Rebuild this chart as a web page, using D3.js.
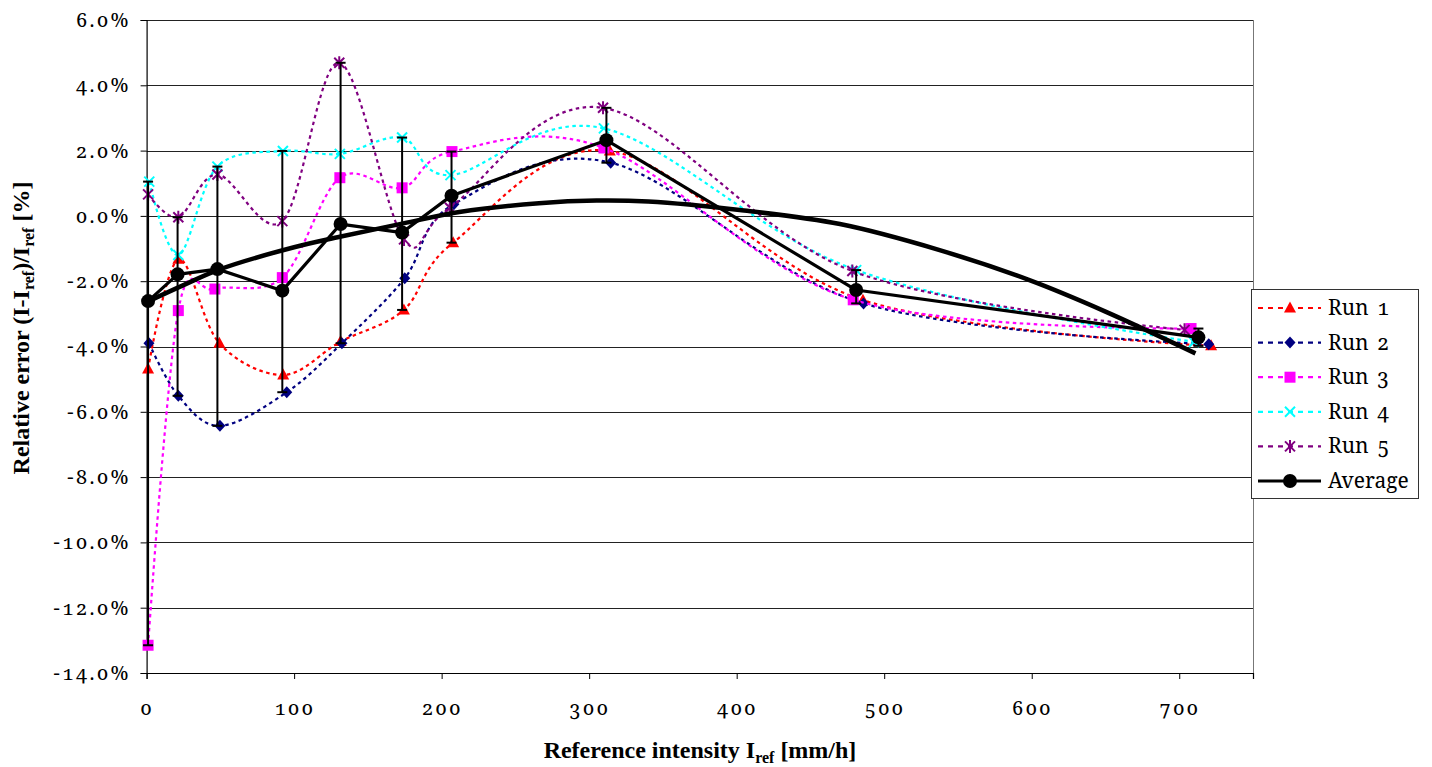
<!DOCTYPE html>
<html>
<head>
<meta charset="utf-8">
<script src="https://cdn.jsdelivr.net/npm/d3@7"></script>
<style>
  html, body { margin: 0; padding: 0; background: #fff; }
  svg { display: block; }
</style>
</head>
<body>
<svg id="chart" width="1432" height="767"></svg>
<script>
// ---------------- data ----------------
const xTicks = [0, 100, 200, 300, 400, 500, 600, 700];
const yTicks = [6, 4, 2, 0, -2, -4, -6, -8, -10, -12, -14];

const seriesNames = ["Run 1", "Run 2", "Run 3", "Run 4", "Run 5"];
const seriesColors = ["#FF0000", "#000080", "#FF00FF", "#00FFFF", "#800080"];

const run1X = [1, 21.5, 49.3, 92.6, 131.5, 174.4, 207.8, 314, 485.6, 721.6];
const run1Y = [-4.69, -1.33, -3.90, -4.87, -3.85, -2.88, -0.82, 1.99, -2.58, -3.98];

const run2X = [1.6, 21.5, 49.7, 95, 132.4, 175, 208.3, 314.6, 486, 720];
const run2Y = [-3.90, -5.51, -6.43, -5.40, -3.90, -1.91, 0.36, 1.63, -2.68, -3.93];

const run3X = [1, 21.5, 46.3, 92, 131, 173.2, 207, 310, 479, 708];
const run3Y = [-13.15, -2.90, -2.24, -1.89, 1.17, 0.86, 1.97, 2.08, -2.57, -3.45];

const run4X = [1.8, 21.5, 48, 92.4, 131, 173.2, 206, 310, 481, 710];
const run4Y = [1.05, -1.20, 1.51, 1.99, 1.90, 2.40, 1.25, 2.68, -1.66, -3.86];

const run5X = [1, 21.5, 48, 92, 130.6, 174.5, 205.6, 309.4, 478.4, 703.6];
const run5Y = [0.66, -0.04, 1.27, -0.16, 4.69, -0.72, 0.25, 3.31, -1.69, -3.49];

const avgX = [1, 21, 48, 92, 131.5, 173.2, 206.7, 311.7, 481, 713];
const avgY = [-2.61, -1.79, -1.63, -2.29, -0.25, -0.51, 0.62, 2.32, -2.27, -3.72];

// trend line of the average
const trendX = [0, 25, 50, 100, 131, 174, 212, 266, 305, 340, 402, 470, 537, 598, 650, 711];
const trendY = [-2.64, -2.12, -1.63, -0.96, -0.64, -0.23, 0.12, 0.39, 0.47, 0.44, 0.18, -0.25, -1.04, -1.96, -2.93, -4.21];

// ---------------- chart ----------------
const NUMFONT = "'Noto Serif'";
const TITLEFONT = "'Liberation Serif'";
const svg = d3.select("#chart");
const L = 146.6, R = 1253, T = 20, B = 673;
const x = d3.scaleLinear().domain([0, 750]).range([L, R]);
const y = d3.scaleLinear().domain([-14, 6]).range([B, T]);

const runsX = [run1X, run2X, run3X, run4X, run5X];
const runsY = [run1Y, run2Y, run3Y, run4Y, run5Y];

// gridlines
svg.append("g").selectAll("line").data(yTicks).join("line")
  .attr("x1", L).attr("x2", R)
  .attr("y1", d => Math.round(y(d)) + 0.5).attr("y2", d => Math.round(y(d)) + 0.5)
  .attr("stroke", "#222").attr("stroke-width", 1);
// right border
svg.append("line").attr("x1", R + 0.5).attr("x2", R + 0.5).attr("y1", T).attr("y2", B)
  .attr("stroke", "#777").attr("stroke-width", 1);

// axes
const yAxis = d3.axisLeft(y).tickValues(yTicks).tickSize(6).tickPadding(10)
  .tickFormat(d => (d3.format(".1f")(d) + "%").replace("\u2212", "-"));
const gy = svg.append("g").attr("transform", `translate(${L},0)`).call(yAxis);
gy.select(".domain").attr("stroke", "#000").attr("stroke-width", 1.2);
gy.selectAll(".tick line").attr("stroke", "#000");
gy.selectAll(".tick text").attr("font-size", 20).attr("fill", "#000")
  .style("font-family", NUMFONT).style("font-variant-numeric", "oldstyle-nums")
  .style("letter-spacing", "2.2px");

const xAxis = d3.axisBottom(x).tickValues(xTicks).tickSize(6).tickPadding(22)
  .tickFormat(d3.format("d"));
const gx = svg.append("g").attr("transform", `translate(0,${B})`).call(xAxis);
gx.select(".domain").attr("stroke", "#000").attr("stroke-width", 1.2);
gx.selectAll(".tick line").attr("stroke", "#000");
gx.selectAll(".tick text").attr("font-size", 20).attr("fill", "#000")
  .style("font-family", NUMFONT).style("font-variant-numeric", "oldstyle-nums")
  .style("letter-spacing", "2px");

// marker drawing
function marker(g, i, cx, cy) {
  const c = seriesColors[i];
  if (i === 0) {
    g.append("path").attr("d", `M${cx},${cy - 6.5}L${cx + 6},${cy + 4.5}L${cx - 6},${cy + 4.5}Z`).attr("fill", c);
  } else if (i === 1) {
    g.append("path").attr("d", `M${cx},${cy - 6}L${cx + 5.5},${cy}L${cx},${cy + 6}L${cx - 5.5},${cy}Z`).attr("fill", c);
  } else if (i === 2) {
    g.append("rect").attr("x", cx - 5.5).attr("y", cy - 5.5).attr("width", 11).attr("height", 11).attr("fill", c);
  } else if (i === 3) {
    g.append("path").attr("d", `M${cx - 5},${cy - 5}L${cx + 5},${cy + 5}M${cx - 5},${cy + 5}L${cx + 5},${cy - 5}`)
      .attr("stroke", c).attr("stroke-width", 2).attr("fill", "none");
  } else {
    g.append("path").attr("d", `M${cx - 5},${cy - 5}L${cx + 5},${cy + 5}M${cx - 5},${cy + 5}L${cx + 5},${cy - 5}M${cx},${cy - 6.5}L${cx},${cy + 6.5}`)
      .attr("stroke", c).attr("stroke-width", 2).attr("fill", "none");
  }
}

// run series
const smooth = d3.line().curve(d3.curveCatmullRom.alpha(0)).x(d => x(d[0])).y(d => y(d[1]));
for (let i = 0; i < 5; i++) {
  const pts = runsX[i].map((v, k) => [v, runsY[i][k]]);
  const g = svg.append("g");
  g.append("path").attr("d", smooth(pts)).attr("fill", "none")
    .attr("stroke", seriesColors[i]).attr("stroke-width", 2.2).attr("stroke-dasharray", "3.5,3.5");
  pts.forEach(p => marker(g, i, x(p[0]), y(p[1])));
}

// error bars (min..max of runs at each average point)
const eg = svg.append("g");
avgX.forEach((ax, k) => {
  const vals = runsY.map(r => r[k]);
  const lo = d3.min(vals), hi = d3.max(vals);
  const px = x(ax);
  eg.append("line").attr("x1", px).attr("x2", px).attr("y1", y(hi)).attr("y2", y(lo))
    .attr("stroke", "#000").attr("stroke-width", 2);
  [hi, lo].forEach(v => eg.append("line").attr("x1", px - 5).attr("x2", px + 5)
    .attr("y1", y(v)).attr("y2", y(v)).attr("stroke", "#000").attr("stroke-width", 2));
});

// average line
const straight = d3.line().x(d => x(d[0])).y(d => y(d[1]));
const avgPts = avgX.map((v, k) => [v, avgY[k]]);
svg.append("path").attr("d", straight(avgPts)).attr("fill", "none")
  .attr("stroke", "#000").attr("stroke-width", 3.2).attr("stroke-linejoin", "round");

// trend line
const trendPts = trendX.map((v, k) => [v, trendY[k]]);
svg.append("path").attr("d", d3.line().curve(d3.curveCatmullRom.alpha(0.5)).x(d => x(d[0])).y(d => y(d[1]))(trendPts))
  .attr("fill", "none").attr("stroke", "#000").attr("stroke-width", 4.5);

svg.append("g").selectAll("circle").data(avgPts).join("circle")
  .attr("cx", d => x(d[0])).attr("cy", d => y(d[1])).attr("r", 7).attr("fill", "#000");

// axis titles
const xt = svg.append("text").attr("x", 700).attr("y", 758).attr("text-anchor", "middle")
  .attr("font-size", 24).attr("font-weight", "bold").attr("fill", "#000").style("font-family", TITLEFONT);
xt.append("tspan").text("Reference intensity I");
xt.append("tspan").attr("font-size", 16).attr("dy", 5).text("ref");
xt.append("tspan").attr("dy", -5).text(" [mm/h]");

const yt = svg.append("text").attr("transform", "translate(29,328) rotate(-90)")
  .attr("text-anchor", "middle").attr("font-size", 24).attr("font-weight", "bold").attr("fill", "#000")
  .style("font-family", TITLEFONT);
yt.append("tspan").text("Relative error (I-I");
yt.append("tspan").attr("font-size", 16).attr("dy", 5).text("ref");
yt.append("tspan").attr("dy", -5).text(")/I");
yt.append("tspan").attr("font-size", 16).attr("dy", 5).text("ref");
yt.append("tspan").attr("dy", -5).text(" [%]");

// legend
const lg = svg.append("g");
lg.append("rect").attr("x", 1251.5).attr("y", 289.5).attr("width", 167).attr("height", 209)
  .attr("fill", "#fff").attr("stroke", "#333").attr("stroke-width", 1);
const legendNames = seriesNames.concat(["Average"]);
legendNames.forEach((name, i) => {
  const ly = 308 + i * 34.6;
  if (i < 5) {
    lg.append("line").attr("x1", 1258).attr("x2", 1321).attr("y1", ly).attr("y2", ly)
      .attr("stroke", seriesColors[i]).attr("stroke-width", 2.2).attr("stroke-dasharray", "5,5");
    marker(lg, i, 1290, ly);
  } else {
    lg.append("line").attr("x1", 1258).attr("x2", 1321).attr("y1", ly).attr("y2", ly)
      .attr("stroke", "#000").attr("stroke-width", 3.2);
    lg.append("circle").attr("cx", 1290).attr("cy", ly).attr("r", 7).attr("fill", "#000");
  }
  lg.append("text").attr("x", 1328).attr("y", ly + 7).attr("font-size", 21).attr("fill", "#000")
    .style("font-family", NUMFONT).style("font-variant-numeric", "oldstyle-nums")
    .style("word-spacing", "3px").text(name);
});
</script>
</body>
</html>
